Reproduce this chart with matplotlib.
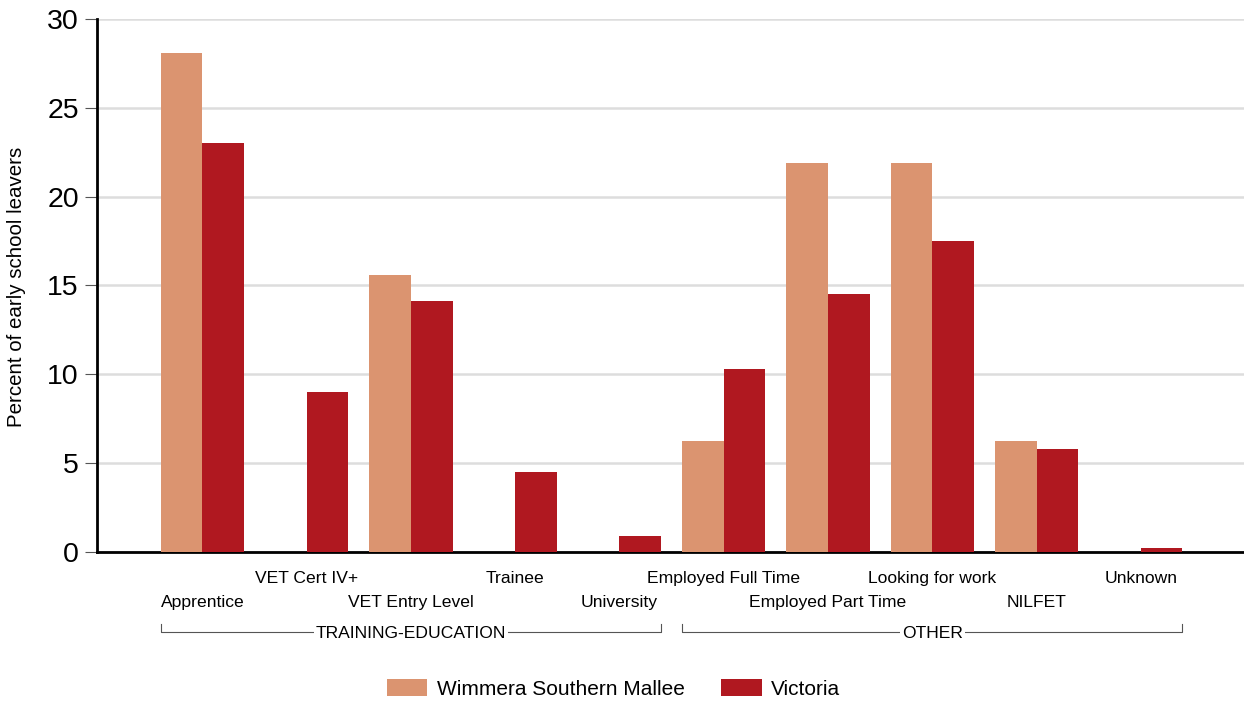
import numpy as np
import matplotlib.pyplot as plt
import matplotlib.transforms as mtransforms

plt.rcParams['font.family'] = ['Liberation Sans', 'DejaVu Sans']

# Destinations of early school leavers
categories = ["Apprentice", "VET Cert IV+", "VET Entry Level", "Trainee", "University",
              "Employed Full Time", "Employed Part Time", "Looking for work", "NILFET", "Unknown"]
wsm = [28.1, 0, 15.6, 0, 0, 6.25, 21.9, 21.9, 6.25, 0]
victoria = [23.0, 9.0, 14.1, 4.5, 0.9, 10.3, 14.5, 17.5, 5.8, 0.2]
groups = [("TRAINING-EDUCATION", 0, 4), ("OTHER", 5, 9)]

orange = '#DB9470'
red = '#B01820'

fig = plt.figure(figsize=(12.44, 7.04), dpi=100)
ax = fig.add_axes([0.078, 0.216, 0.922, 0.757])

x = np.arange(len(categories))
w = 0.4
ax.bar(x - w / 2, wsm, w, color=orange, label="Wimmera Southern Mallee", zorder=3)
ax.bar(x + w / 2, victoria, w, color=red, label="Victoria", zorder=3)

ax.set_ylim(0, 30)
ax.set_xlim(-1.01, 9.99)
ax.set_yticks([0, 5, 10, 15, 20, 25, 30])
ax.yaxis.grid(True, color='#dddddd', linewidth=1.8, zorder=0)
ax.set_axisbelow(True)
ax.tick_params(axis='y', labelsize=20.5, length=9, width=0.8, color='#555555', pad=4)
ax.set_xticks([])
for s in ['top', 'right']:
    ax.spines[s].set_visible(False)
ax.spines['left'].set_linewidth(2)
ax.spines['bottom'].set_linewidth(2)
ax.set_ylabel("Percent of early school leavers", fontsize=14.8)
ax.yaxis.set_label_coords(-0.062, 0.497)

# staggered category labels
for i, lab in enumerate(categories):
    off = -27 if i % 2 == 1 else -51
    ax.annotate(lab, xy=(i, 0), xycoords=('data', 'axes fraction'),
                xytext=(0, off * 0.72), textcoords='offset points',
                ha='center', va='center', fontsize=12.6)

# group brackets
trans = mtransforms.blended_transform_factory(ax.transData, ax.transAxes)
y_top = (552 - 624) / 533
y_bot = (552 - 632) / 533
for name, a, b in groups:
    x0, x1 = a - w, b + w
    ax.plot([x0, x0, x1, x1], [y_top, y_bot, y_bot, y_top], color='#555555',
            linewidth=0.8, transform=trans, clip_on=False)
    ax.text((a + b) / 2, (552 - 634) / 533, name, transform=trans, ha='center', va='center',
            fontsize=12.6, clip_on=False,
            bbox=dict(facecolor='white', edgecolor='none', pad=1.5))

fig.legend(loc='center', bbox_to_anchor=(0.493, 1 - 689 / 704), ncol=2, frameon=False,
           fontsize=15, handlelength=1.95, handleheight=0.85, handletextpad=0.45,
           columnspacing=1.75)

fig.savefig("out.png", dpi=100)
